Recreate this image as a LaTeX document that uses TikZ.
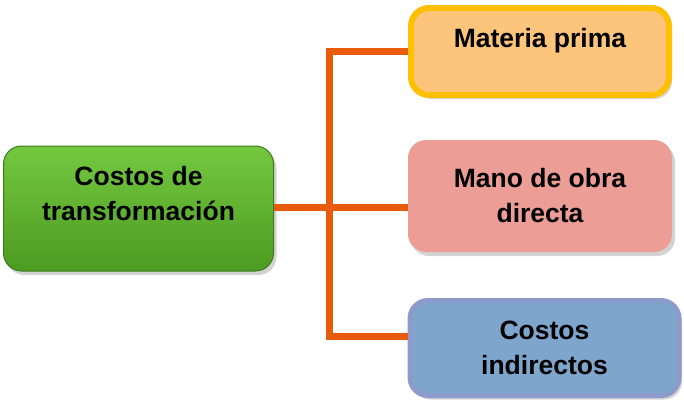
\documentclass[tikz,border=0pt]{standalone}
\usepackage{fontspec}
\setmainfont{Liberation Sans}
\usepackage{tikz}
\usetikzlibrary{shapes}
\usetikzlibrary{positioning}
\usetikzlibrary{calc}
\usetikzlibrary{shadings, shadows}
\definecolor{verdeA}{HTML}{74C83F}
\definecolor{verdeB}{HTML}{4C9B22}
\definecolor{naranja}{HTML}{E85A0C}
\tikzstyle{caja}=[rectangle,rounded corners=18pt,align=center,
        font=\fontsize{26.5}{35}\selectfont\bfseries,inner sep=0pt,
        drop shadow={shadow xshift=3pt,shadow yshift=-4pt,opacity=0.35}]
\tikzstyle{costo}=[caja,draw=verdeB!80!black,line width=1pt,
        top color=verdeA,bottom color=verdeB,
        minimum width=270pt,text height=74pt,text depth=51pt]
\tikzstyle{materia}=[caja,draw={rgb,255:red,255;green,192;blue,0},line width=6pt,
        fill={rgb,255:red,253;green,197;blue,123},
        minimum width=258pt,text height=39pt,text depth=48pt]
\tikzstyle{mano}=[caja,fill={rgb,255:red,236;green,157;blue,149},
        minimum width=264pt,minimum height=112pt]
\tikzstyle{indirecto}=[caja,draw={rgb,255:red,140;green,154;blue,204},line width=5pt,
        fill={rgb,255:red,126;green,166;blue,205},
        minimum width=269pt,minimum height=95pt]
\tikzstyle{enlace}=[draw=naranja,line width=7pt]

\begin{document}
\begin{tikzpicture}[x=1pt,y=-1pt]
\useasboundingbox (0,0) rectangle (684,405);
\node[costo] (ct) at (138.5,208.5) {Costos de\\transformación};
\node[materia] (mp) at (540,51.5) {Materia prima};
\node[mano] (mo) at (540,196) {Mano de obra\\directa};
\node[indirecto] (ci) at (544.5,348) {Costos\\indirectos};
\coordinate (arriba) at (329,51.5);
\coordinate (centro) at (329,207);
\coordinate (abajo) at (329,336);
%conectores
\draw[enlace] (mp.west) -- (arriba) -- (abajo) -- (ci.west |- abajo);
\draw[enlace] (ct.east |- centro) -- (mo.west |- centro);
\end{tikzpicture}
\end{document}
